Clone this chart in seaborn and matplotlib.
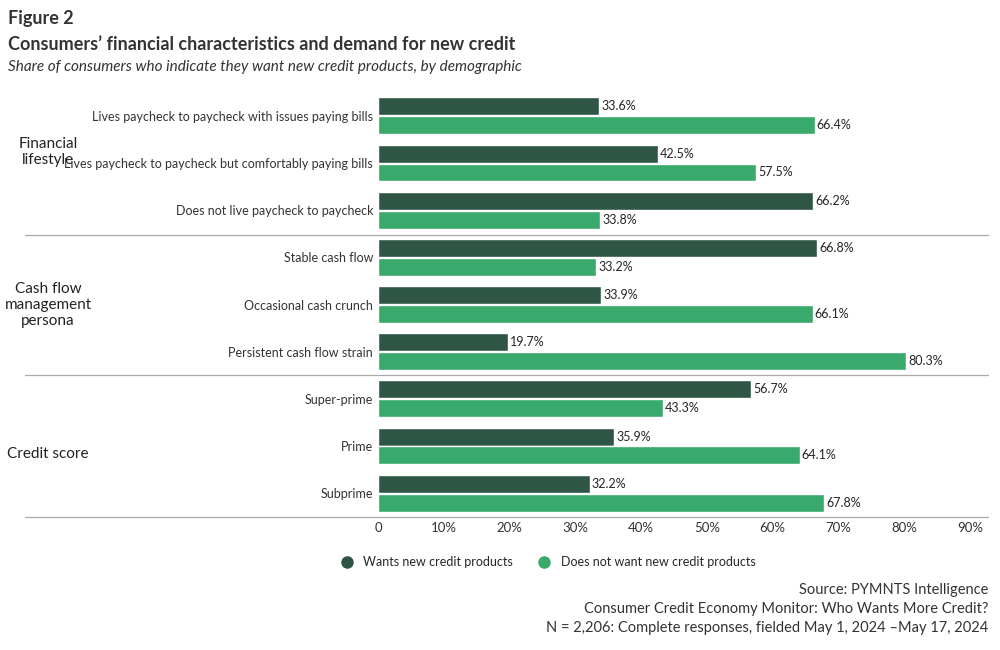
import pandas as pd
import matplotlib.pyplot as plt
import matplotlib.lines as mlines
import seaborn as sns

categories = [
    "Lives paycheck to paycheck with issues paying bills",
    "Lives paycheck to paycheck but comfortably paying bills",
    "Does not live paycheck to paycheck",
    "Stable cash flow",
    "Occasional cash crunch",
    "Persistent cash flow strain",
    "Super-prime",
    "Prime",
    "Subprime",
]
wants = [33.6, 42.5, 66.2, 66.8, 33.9, 19.7, 56.7, 35.9, 32.2]
not_wants = [66.4, 57.5, 33.8, 33.2, 66.1, 80.3, 43.3, 64.1, 67.8]
series = ["Wants new credit products", "Does not want new credit products"]
groups = ["Financial\nlifestyle", "Cash flow\nmanagement\npersona", "Credit score"]
colors = ["#2f5644", "#3aaa6c"]

df = pd.DataFrame({
    "category": categories * 2,
    "value": wants + not_wants,
    "series": [series[0]] * 9 + [series[1]] * 9,
})

sns.set_style("white")
plt.rcParams["font.family"] = ["Lato", "DejaVu Sans"]

fig = plt.figure(figsize=(10, 6.5), dpi=100)
ax = fig.add_axes([0.378, 0.205, 0.592, 0.653])
sns.barplot(data=df, y="category", x="value", hue="series", order=categories,
            palette=colors, orient="h", width=0.8, ax=ax, legend=False, saturation=1)

for c in ax.containers:
    for p in c:
        cy = p.get_y() + p.get_height() / 2
        p.set_height(0.38)
        p.set_y(cy - 0.19)
    ax.bar_label(c, labels=[f"{v.get_width():.1f}%" for v in c], padding=1.5, fontsize=9)

ax.set_xlim(0, 90)
ax.set_ylim(8.5, -0.5)
ax.set_xticks(range(0, 91, 10))
ax.set_xticklabels(["0"] + [f"{t}%" for t in range(10, 91, 10)], fontsize=9.5, color="#333333")
ax.tick_params(axis="y", length=0, labelsize=9, labelcolor="#333333")
ax.tick_params(axis="x", length=0)
ax.set_xlabel("")
ax.set_ylabel("")
for s in ax.spines.values():
    s.set_visible(False)

for yp in [235, 375, 517]:
    fig.add_artist(mlines.Line2D([0.025, 0.988], [1 - yp / 650] * 2, color="#aaaaaa", lw=0.9))

for g, yp in zip(groups, [152, 305, 454]):
    fig.text(0.048, 1 - yp / 650, g, ha="center", va="center", fontsize=11, color="#222222")

fig.text(0.008, 0.972, "Figure 2", fontsize=13, fontweight="bold", color="#333333", va="center")
fig.text(0.008, 0.932, "Consumers\u2019 financial characteristics and demand for new credit",
         fontsize=13, fontweight="bold", color="#333333", va="center")
fig.text(0.008, 0.897, "Share of consumers who indicate they want new credit products, by demographic",
         fontsize=11, style="italic", color="#333333", va="center")

handles = [mlines.Line2D([], [], marker="o", ls="", color=c, markersize=8) for c in colors]
fig.legend(handles, series, loc="center", bbox_to_anchor=(0.545, 1 - 562 / 650), ncol=2,
           frameon=False, fontsize=9, handletextpad=0.3, columnspacing=1.5)

for txt, yp in zip(["Source: PYMNTS Intelligence",
                    "Consumer Credit Economy Monitor: Who Wants More Credit?",
                    "N = 2,206: Complete responses, fielded May 1, 2024 \u2013May 17, 2024"],
                   [590, 609, 628]):
    fig.text(0.988, 1 - yp / 650, txt, ha="right", va="center", fontsize=10.5, color="#333333")

fig.savefig("out.png", dpi=100)
